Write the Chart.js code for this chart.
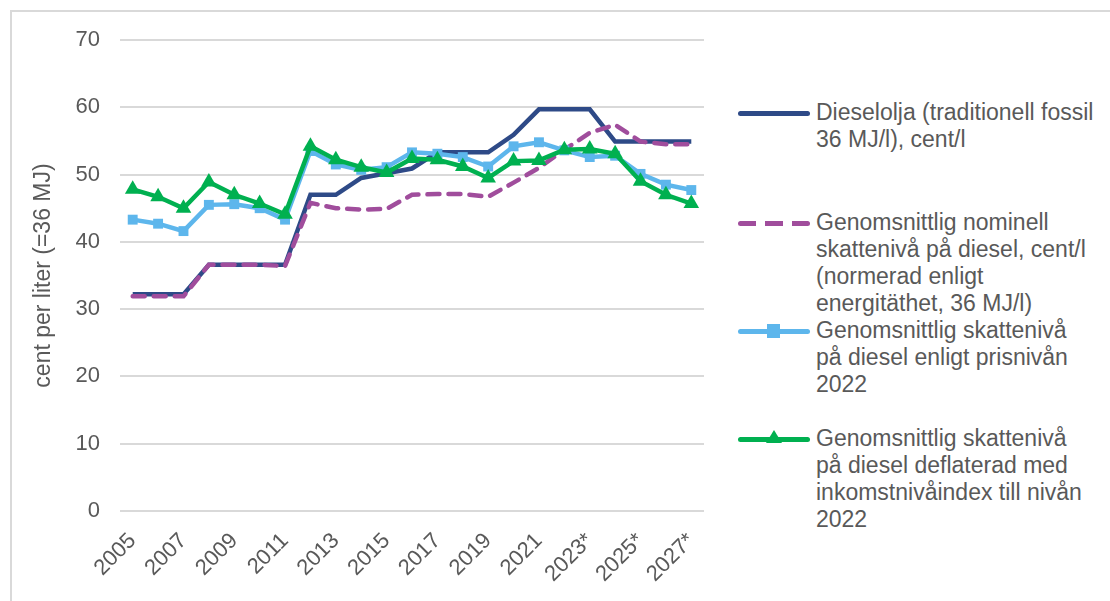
<!DOCTYPE html>
<html lang="sv">
  <head>
    <meta charset="UTF-8" />
    <title>Skattenivå på diesel</title>
    <script src="https://cdn.jsdelivr.net/npm/chart.js@4"></script>
    <style>
      body {
        margin: 0;
        background: #ffffff;
        font-family: 'Liberation Sans', Arial, sans-serif;
        color: #595959;
        width: 1110px;
        height: 601px;
        overflow: hidden;
        position: relative;
      }
      #frame {
        position: absolute;
        left: 10px;
        top: 10px;
        width: 1200px;
        height: 700px;
        border-left: 2px solid #d9d9d9;
        border-top: 2px solid #d9d9d9;
      }
      #wrap {
        position: absolute;
        left: 0;
        top: 0;
        width: 720px;
        height: 601px;
      }
      .entry {
        position: absolute;
        left: 738px;
      }
      .sample {
        position: absolute;
        left: 0;
        top: -2px;
        width: 72px;
        height: 5px;
        border-radius: 3px;
      }
      .label {
        position: absolute;
        left: 78px;
        top: -14px;
        font-size: 23px;
        line-height: 27px;
        white-space: nowrap;
        color: #595959;
      }
      .mk-sq {
        position: absolute;
        left: 29px;
        top: -5px;
        width: 13px;
        height: 14px;
        background: #5db6ec;
      }
      .mk-tri {
        position: absolute;
        left: 28px;
        top: -7px;
        width: 0;
        height: 0;
        border-left: 8px solid transparent;
        border-right: 8px solid transparent;
        border-bottom: 13px solid #00b050;
      }
    </style>
  </head>
  <body>
    <div id="frame"></div>
    <div id="wrap"><canvas id="chart" width="720" height="601"></canvas></div>
    <div id="legend"></div>

    <script>
      const years = [
        '2005', '2006', '2007', '2008', '2009', '2010', '2011', '2012',
        '2013', '2014', '2015', '2016', '2017', '2018', '2019', '2020',
        '2021', '2022', '2023*', '2024*', '2025*', '2026*', '2027*'
      ]

      const diesel = [
        32.2, 32.2, 32.2, 36.6, 36.6, 36.6, 36.6, 47.0, 47.0, 49.5, 50.2, 50.9,
        53.3, 53.3, 53.3, 55.9, 59.7, 59.7, 59.7, 54.9, 54.9, 54.9, 54.9
      ]
      const nominell = [
        31.9, 31.9, 31.9, 36.6, 36.6, 36.6, 36.4, 45.8, 45.0, 44.8, 44.9, 47.0,
        47.1, 47.1, 46.7, 48.8, 51.0, 53.7, 56.2, 57.4, 54.9, 54.5, 54.5
      ]
      const prisniva = [
        43.3, 42.7, 41.6, 45.5, 45.6, 45.0, 43.3, 53.5, 51.5, 50.7, 51.1, 53.3,
        53.1, 52.6, 51.2, 54.2, 54.8, 53.6, 52.6, 52.8, 50.1, 48.5, 47.7
      ]
      const inkomst = [
        47.8, 46.7, 45.0, 48.9, 47.0, 45.7, 44.1, 54.2, 52.2, 51.1, 50.3, 52.4,
        52.2, 51.2, 49.5, 52.0, 52.1, 53.7, 53.8, 53.1, 49.0, 47.0, 45.7
      ]

      const legendItems = [
        {
          y: 113,
          lines: ['Dieselolja (traditionell fossil', '36 MJ/l), cent/l'],
          style: 'background: #2e4a87;',
          marker: '',
        },
        {
          y: 223,
          lines: [
            'Genomsnittlig nominell',
            'skattenivå på diesel, cent/l',
            '(normerad enligt',
            'energitäthet, 36 MJ/l)',
          ],
          style:
            'background: repeating-linear-gradient(90deg, #a04d9c 0 18px, transparent 18px 27px);',
          marker: '',
        },
        {
          y: 331,
          lines: ['Genomsnittlig skattenivå', 'på diesel enligt prisnivån', '2022'],
          style: 'background: #5db6ec;',
          marker: '<div class="mk-sq"></div>',
        },
        {
          y: 439,
          lines: [
            'Genomsnittlig skattenivå',
            'på diesel deflaterad med',
            'inkomstnivåindex till nivån',
            '2022',
          ],
          style: 'background: #00b050;',
          marker: '<div class="mk-tri"></div>',
        },
      ]

      const legend = document.getElementById('legend')
      legendItems.forEach(item => {
        const el = document.createElement('div')
        el.className = 'entry'
        el.style.top = item.y + 'px'
        el.innerHTML = `
          <div class="sample" style="${item.style}">${item.marker}</div>
          <div class="label">${item.lines.join('<br>')}</div>
        `
        legend.appendChild(el)
      })

      const tickFont = { family: "'Liberation Sans', Arial, sans-serif", size: 22 }

      new Chart(document.getElementById('chart'), {
        type: 'line',
        data: {
          labels: years,
          datasets: [
            {
              label: 'Dieselolja (traditionell fossil 36 MJ/l), cent/l',
              data: diesel,
              borderColor: '#2e4a87',
              borderWidth: 4.5,
              pointRadius: 0,
              order: 4,
            },
            {
              label: 'Genomsnittlig nominell skattenivå på diesel, cent/l',
              data: nominell,
              borderColor: '#a04d9c',
              borderWidth: 4.5,
              borderDash: [12, 9],
              borderCapStyle: 'round',
              pointRadius: 0,
              order: 3,
            },
            {
              label: 'Genomsnittlig skattenivå på diesel enligt prisnivån 2022',
              data: prisniva,
              borderColor: '#5db6ec',
              backgroundColor: '#5db6ec',
              borderWidth: 4.5,
              pointStyle: 'rect',
              pointRadius: 7,
              pointBorderWidth: 0,
              order: 2,
            },
            {
              label: 'Genomsnittlig skattenivå på diesel deflaterad med inkomstnivåindex till nivån 2022',
              data: inkomst,
              borderColor: '#00b050',
              backgroundColor: '#00b050',
              borderWidth: 4.5,
              pointStyle: 'triangle',
              pointRadius: 9,
              pointBorderWidth: 0,
              order: 1,
            },
          ],
        },
        options: {
          responsive: false,
          animation: false,
          layout: { padding: { top: 40, right: 16, left: 0, bottom: 0 } },
          plugins: {
            legend: { display: false },
            tooltip: { enabled: false },
          },
          elements: { line: { tension: 0 } },
          scales: {
            x: {
              offset: true,
              grid: { display: false },
              border: { display: false },
              ticks: {
                autoSkip: false,
                maxRotation: 45,
                minRotation: 45,
                color: '#595959',
                font: tickFont,
                padding: 9,
                callback: function (value, index) {
                  return index % 2 === 0 ? this.getLabelForValue(value) : ''
                },
              },
              afterFit: scale => {
                scale.height = 90
              },
            },
            y: {
              min: 0,
              max: 70,
              ticks: {
                stepSize: 10,
                color: '#595959',
                font: tickFont,
                padding: 20,
              },
              grid: {
                color: '#d9d9d9',
                lineWidth: 2,
                drawTicks: false,
              },
              border: { display: false },
              title: {
                display: true,
                text: 'cent per liter (=36 MJ)',
                color: '#595959',
                font: { family: "'Liberation Sans', Arial, sans-serif", size: 23 },
                padding: { top: 30, bottom: 0 },
              },
              afterFit: scale => {
                scale.width = 120
              },
            },
          },
        },
      })
    </script>
  </body>
</html>
